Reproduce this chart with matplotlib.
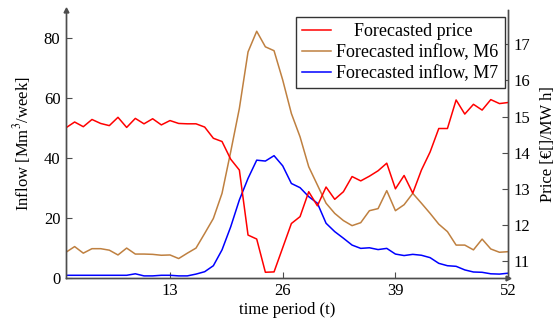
import matplotlib.pyplot as plt
import numpy as np

plt.rcParams['font.family'] = ['Liberation Serif', 'DejaVu Serif']
plt.rcParams['mathtext.fontset'] = 'stix'

weeks = np.arange(1, 53)

price = [14.69, 14.85, 14.72, 14.92, 14.81, 14.75, 14.98, 14.70, 14.95, 14.80,
         14.94, 14.77, 14.89, 14.81, 14.80, 14.80, 14.71, 14.40, 14.31, 13.82,
         13.52, 11.72, 11.61, 10.69, 10.70, 11.37, 12.04, 12.23, 12.92, 12.53,
         13.05, 12.71, 12.92, 13.34, 13.22, 13.35, 13.50, 13.71, 13.00, 13.37,
         12.88, 13.52, 14.02, 14.67, 14.67, 15.46, 15.07, 15.34, 15.18, 15.47,
         15.36, 15.39]

inflow_m6 = [8.5, 10.4, 8.2, 9.7, 9.7, 9.2, 7.6, 9.9, 7.9, 7.9,
             7.8, 7.5, 7.6, 6.4, 8.2, 9.9, 14.8, 19.8, 28.2, 42.1,
             56.6, 75.5, 82.4, 77.2, 75.9, 66.1, 54.9, 47.1, 37.1, 31.0,
             24.9, 21.5, 19.1, 17.4, 18.4, 22.4, 23.1, 29.1, 22.4, 24.4,
             28.2, 24.9, 21.5, 17.9, 15.4, 10.9, 10.9, 9.3, 12.9, 9.6,
             8.5, 8.7]

inflow_m7 = [0.8, 0.8, 0.8, 0.8, 0.8, 0.8, 0.8, 0.8, 1.3, 0.6,
             0.6, 0.8, 0.8, 0.6, 0.6, 1.2, 2.0, 4.0, 9.3, 17.0,
             26.0, 33.2, 39.3, 39.0, 40.8, 37.4, 31.5, 30.1, 27.1, 24.9,
             18.2, 15.4, 13.2, 10.9, 9.8, 10.0, 9.4, 9.8, 7.9, 7.4,
             7.8, 7.5, 6.7, 4.8, 4.0, 3.8, 2.6, 1.9, 1.8, 1.3,
             1.2, 1.5]

fig = plt.figure(figsize=(5.59, 3.28), dpi=100)
ax = fig.add_axes([0.118, 0.1534, 0.791, 0.816])
ax2 = ax.twinx()

axis_color = '0.3'

l6, = ax.plot(weeks, inflow_m6, color='#bf8040', lw=1.1)
l7, = ax.plot(weeks, inflow_m7, color='#0000ff', lw=1.1)
lp, = ax2.plot(weeks, price, color='#ff0000', lw=1.1)

ax.set_xlim(1, 52)
ax.set_ylim(0, 89.5)
ax2.set_ylim(10.54, 17.95)
ax.set_xticks([13, 26, 39, 52])
ax.set_yticks([0, 20, 40, 60, 80])
ax2.set_yticks([11, 12, 13, 14, 15, 16, 17])

for a in (ax, ax2):
    a.spines['top'].set_visible(False)
    for s in a.spines.values():
        s.set_color(axis_color)
        s.set_linewidth(1.0)
    a.tick_params(direction='in', length=4, width=0.8, color=axis_color,
                  labelsize=12, pad=4)

ax.set_xlabel('time period (t)', fontsize=12, labelpad=2)
ax.set_ylabel('Inflow [Mm$^3$/week]', fontsize=12, labelpad=8)
ax2.set_ylabel('Price [€[]/MW h]', fontsize=12, labelpad=7)

# arrow heads on the axis lines
ax.plot(0, 1, marker='^', color=axis_color, markersize=3.5,
        transform=ax.transAxes, clip_on=False)
ax.plot(1, 0, marker='>', color=axis_color, markersize=3.5,
        transform=ax.transAxes, clip_on=False)

leg = ax2.legend([lp, l6, l7],
                 ['    Forecasted price', 'Forecasted inflow, M6',
                  'Forecasted inflow, M7'],
                 loc='upper right', bbox_to_anchor=(0.903, 0.949),
                 bbox_transform=fig.transFigure, fontsize=13,
                 fancybox=False, framealpha=1, edgecolor='0.2',
                 handlelength=1.6, handletextpad=0.3, labelspacing=0.22,
                 borderpad=0.35, borderaxespad=0)
leg.get_frame().set_linewidth(1.0)

fig.savefig('out.png', dpi=100)
